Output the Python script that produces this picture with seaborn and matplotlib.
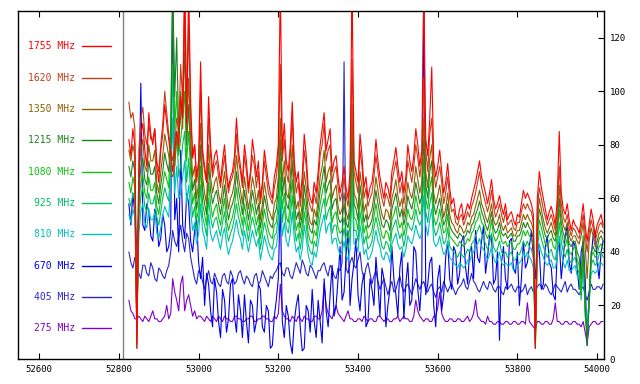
import numpy as np
import pandas as pd
import matplotlib
matplotlib.use("Agg")
import matplotlib.pyplot as plt
import seaborn as sns

start_mjd = 52825
step_days = 5

f1755 = [82,76, 86,80, 4,70, 84,88, 78,72, 92,84, 80,86, 72,66, 78,84, 95,88, 82,76, 70,78, 85,80, 98,90, 140,88, 140,96, 75,80, 68,74, 111,78, 72,66, 98,80, 70,76, 78,72, 66,74, 80,70, 64,68, 70,76, 90,78, 72,66, 80,74, 64,70, 82,76, 68,74, 60,66, 78,72, 66,62, 60,68, 72,80, 140,78, 88,74, 70,80, 96,74, 66,70, 60,68, 84,76, 64,60, 58,66, 62,70, 80,86, 92,78, 82,86, 70,74, 76,68, 62,66, 72,64, 60,70, 140,74, 70,66, 84,76, 64,68, 60,64, 66,72, 82,74, 68,64, 60,66, 64,60, 70,74, 79,72, 66,70, 62,68, 80,74, 70,76, 86,80, 72,78, 140,82, 76,90, 109,74, 68,72, 78,70, 62,66, 73,64, 58,60, 54,52, 56,58, 52,55, 58,56, 60,63, 66,70, 74,68, 65,62, 58,62, 67,60, 56,58, 61,57, 54,58, 52,54, 55,52, 50,54, 53,58, 63,60, 62,60, 58,54, 4,60, 70,64, 60,56, 52,55, 57,54, 50,60, 85,62, 56,54, 58,52, 48,52, 50,49, 47,52, 58,50, 44,50, 56,52, 46,50, 52,54, 50]
f1620 = [96,90, 92,86, 6,78, 90,94, 84,80, 88,82, 82,86, 74,70, 80,88, 100,92, 84,78, 74,80, 90,86, 110,96, 140,92, 125,90, 76,80, 66,72, 100,76, 70,66, 90,76, 68,72, 74,68, 64,70, 76,68, 62,66, 68,72, 84,74, 70,64, 76,70, 62,68, 76,72, 64,70, 58,64, 74,68, 62,60, 58,64, 68,76, 110,74, 82,70, 66,76, 90,70, 62,66, 57,64, 78,72, 60,57, 55,62, 58,66, 76,80, 88,74, 78,80, 66,70, 72,64, 59,62, 68,61, 57,66, 112,70, 66,62, 78,72, 60,64, 57,60, 62,68, 76,70, 64,60, 57,62, 60,57, 66,70, 74,68, 62,66, 58,64, 74,70, 66,72, 80,75, 68,74, 105,78, 70,84, 90,70, 64,68, 72,66, 58,62, 68,60, 55,56, 51,50, 53,54, 50,52, 55,53, 57,59, 62,66, 70,64, 61,58, 55,58, 63,57, 53,55, 58,54, 51,55, 50,51, 52,49, 48,51, 51,55, 58,56, 58,56, 55,51, 6,56, 64,60, 56,53, 50,52, 54,51, 48,56, 72,58, 53,51, 54,49, 46,49, 48,46, 45,49, 54,47, 40,47, 52,49, 44,47, 50,51, 49]
f1350 = [78,74, 80,76, 8,68, 78,82, 72,70, 80,74, 74,78, 66,62, 70,76, 84,80, 76,70, 68,72, 82,78, 100,86, 130,84, 105,82, 68,72, 60,66, 88,68, 62,58, 80,68, 62,66, 68,62, 58,64, 70,62, 56,60, 62,66, 76,68, 63,58, 68,62, 56,61, 68,64, 58,63, 52,58, 66,61, 56,54, 52,58, 60,68, 90,66, 74,62, 60,68, 80,63, 56,59, 52,58, 70,64, 55,51, 50,56, 53,60, 68,72, 78,66, 70,72, 60,63, 65,57, 54,56, 62,55, 52,59, 95,62, 60,56, 70,64, 55,58, 52,54, 56,61, 68,63, 58,54, 52,56, 55,52, 60,63, 67,61, 57,60, 53,58, 66,62, 60,64, 72,67, 62,66, 90,70, 64,75, 80,62, 58,61, 65,59, 53,56, 62,54, 51,50, 48,47, 50,49, 47,48, 51,50, 53,54, 57,60, 63,58, 56,53, 51,54, 58,52, 50,51, 54,50, 48,50, 47,48, 49,46, 46,48, 48,51, 54,52, 54,52, 51,48, 8,52, 60,56, 52,49, 47,49, 51,48, 46,52, 65,54, 50,48, 51,46, 44,46, 46,44, 43,46, 51,42, 30,44, 49,46, 42,44, 47,48, 47]
f1215 = [72,68, 74,70, 4,62, 72,75, 67,65, 74,69, 69,72, 62,58, 65,70, 77,73, 70,80, 140,98, 120,84, 90,96, 115,80, 95,76, 63,67, 56,61, 80,63, 58,54, 73,63, 58,61, 63,58, 54,59, 65,57, 52,56, 58,61, 70,63, 59,54, 63,58, 52,57, 63,59, 54,58, 49,54, 61,57, 52,50, 49,54, 56,63, 82,61, 68,58, 56,63, 74,59, 52,55, 49,54, 65,59, 51,48, 47,52, 50,56, 63,67, 72,62, 65,67, 56,59, 60,53, 51,52, 58,51, 49,55, 85,58, 56,52, 65,59, 51,54, 49,50, 52,57, 63,58, 54,50, 49,52, 51,48, 56,59, 62,57, 53,56, 50,54, 61,58, 56,60, 66,62, 58,61, 82,65, 60,70, 74,58, 54,57, 60,55, 50,52, 58,50, 48,47, 46,45, 47,46, 45,46, 48,47, 50,51, 54,56, 59,55, 53,50, 48,51, 55,49, 47,48, 51,47, 46,47, 45,46, 47,44, 44,46, 46,48, 51,49, 51,49, 48,45, 4,48, 56,53, 49,46, 45,47, 48,45, 44,49, 60,51, 47,45, 48,43, 42,44, 44,40, 38,30, 46,20, 5,22, 40,42, 40,41, 45,46, 44]
f1080 = [66,62, 68,64, 10,57, 66,69, 62,60, 68,63, 63,66, 57,54, 60,65, 70,67, 64,90, 140,86, 100,76, 82,90, 100,74, 85,70, 58,62, 52,56, 72,58, 54,50, 66,58, 53,56, 58,53, 50,55, 60,52, 48,51, 53,57, 64,58, 54,50, 58,53, 48,53, 58,54, 50,54, 45,50, 56,52, 48,46, 45,50, 51,58, 75,56, 62,53, 51,58, 67,54, 48,51, 45,50, 60,54, 47,44, 43,48, 46,52, 58,62, 66,57, 60,62, 51,54, 55,49, 47,48, 53,47, 45,50, 78,53, 52,48, 60,54, 47,50, 45,46, 48,53, 58,53, 50,46, 45,48, 47,44, 52,54, 57,52, 49,51, 46,50, 56,53, 52,55, 61,57, 54,56, 75,60, 56,64, 68,53, 50,52, 56,51, 47,48, 54,46, 45,44, 43,42, 44,43, 42,43, 45,44, 47,48, 51,52, 55,51, 50,47, 45,47, 52,46, 44,45, 48,44, 43,44, 42,43, 44,41, 41,43, 43,45, 48,46, 48,46, 45,42, 4,45, 52,49, 46,43, 42,44, 45,42, 41,46, 56,48, 44,42, 45,40, 39,41, 42,37, 35,24, 43,18, 8,20, 38,40, 38,39, 42,43, 41]
f925 = [60,57, 62,59, 12,52, 61,64, 57,55, 62,58, 58,61, 53,50, 55,60, 64,61, 59,75, 110,72, 85,68, 72,80, 85,66, 75,62, 53,57, 48,52, 65,53, 50,46, 60,53, 49,52, 53,49, 46,51, 55,48, 44,47, 49,53, 58,53, 50,46, 53,49, 44,49, 53,50, 46,50, 41,46, 51,48, 44,42, 41,46, 47,53, 68,51, 57,49, 47,53, 61,50, 44,47, 41,46, 55,50, 43,40, 39,44, 42,48, 53,57, 60,52, 55,57, 47,50, 50,45, 43,44, 49,43, 41,46, 70,48, 48,44, 55,50, 43,46, 41,42, 44,49, 53,49, 46,42, 41,44, 43,40, 48,50, 52,48, 45,47, 42,46, 51,49, 48,51, 56,52, 50,52, 68,55, 51,58, 62,49, 46,48, 51,47, 43,44, 49,42, 41,40, 39,38, 40,39, 38,39, 41,40, 43,44, 46,48, 50,47, 45,43, 41,43, 47,42, 40,41, 44,40, 39,40, 38,39, 40,37, 37,39, 39,41, 44,42, 44,42, 41,38, 6,41, 48,45, 42,40, 38,40, 41,38, 37,42, 51,44, 40,38, 41,37, 36,37, 38,34, 32,22, 40,16, 10,20, 35,37, 35,36, 39,40, 38]
f810 = [54,51, 56,53, 14,47, 55,58, 51,49, 56,52, 52,55, 47,45, 49,54, 57,55, 53,66, 90,62, 72,60, 62,68, 74,58, 65,55, 48,51, 43,47, 58,48, 45,41, 54,47, 44,46, 48,44, 41,46, 49,43, 39,42, 44,48, 52,47, 45,41, 48,44, 40,44, 48,45, 42,45, 37,41, 46,43, 40,38, 37,41, 42,48, 61,46, 51,44, 42,47, 55,45, 40,42, 37,41, 50,45, 39,36, 35,40, 38,43, 48,51, 54,47, 50,51, 43,45, 45,41, 39,40, 44,39, 37,41, 63,43, 43,40, 50,45, 39,41, 37,38, 40,44, 48,44, 42,38, 37,40, 39,36, 43,45, 47,43, 41,42, 38,41, 46,44, 43,46, 50,47, 45,47, 61,50, 46,52, 56,44, 42,43, 46,42, 39,40, 44,38, 37,36, 35,34, 36,35, 34,35, 37,36, 39,40, 42,43, 45,42, 41,39, 37,39, 42,38, 36,37, 40,36, 35,36, 35,35, 36,33, 34,35, 36,37, 40,38, 40,38, 37,34, 10,37, 43,40, 38,36, 35,36, 37,34, 34,38, 46,40, 36,34, 37,33, 33,34, 35,31, 30,24, 37,20, 14,22, 32,33, 32,33, 36,36, 35]
f670 = [58,50, 62,54, 40,56, 103,50, 48,58, 55,46, 44,56, 52,42, 45,54, 50,40, 42,48, 140,52, 60,40, 78,50, 45,62, 58,44, 40,48, 52,36, 30,38, 20,32, 28,18, 12,30, 25,14, 8,26, 22,10, 15,28, 30,16, 10,24, 18,8, 24,14, 6,22, 20,10, 14,28, 26,12, 10,20, 18,4, 5,16, 22,30, 60,14, 8,20, 16,6, 2,14, 20,24, 12,3, 4,20, 18,10, 26,14, 8,22, 14,6, 30,18, 12,24, 35,16, 20,30, 42,22, 25,38, 48,20, 30,36, 45,24, 18,28, 32,12, 14,30, 26,20, 38,28, 16,34, 30,12, 20,26, 42,30, 24,16, 34,40, 15,28, 36,20, 22,42, 40,26, 18,30, 140,24, 28,36, 38,20, 12,30, 35,18, 24,38, 44,30, 26,42, 40,28, 32,44, 46,34, 28,40, 42,30, 48,38, 36,44, 50,32, 38,46, 46,28, 30,40, 7,36, 42,30, 26,44, 45,34, 32,40, 20,30, 44,34, 36,42, 48,38, 30,44, 40,26, 28,42, 46,36, 34,24, 22,40, 44,30, 38,46, 50,36, 32,44, 42,34, 26,40, 44,30, 5,24, 38,46, 48,36, 30,40, 44]
f405 = [40,36, 34,38, 36,32, 30,35, 35,32, 31,36, 34,30, 29,34, 33,31, 30,33, 35,40, 48,44, 42,46, 50,44, 40,47, 45,38, 34,30, 28,33, 32,29, 26,30, 33,29, 28,32, 30,28, 27,31, 32,29, 28,33, 31,28, 29,32, 33,30, 28,31, 30,28, 27,31, 32,28, 29,33, 31,29, 27,31, 30,32, 33,35, 36,32, 31,34, 34,31, 30,33, 36,34, 32,37, 35,32, 31,35, 34,32, 30,33, 33,35, 36,33, 31,35, 34,31, 30,34, 33,36, 111,34, 32,36, 38,35, 34,37, 40,33, 30,34, 36,32, 28,31, 33,29, 26,28, 30,27, 24,27, 29,25, 26,29, 31,27, 25,27, 28,26, 24,27, 30,28, 26,28, 29,26, 25,27, 28,25, 23,26, 27,25, 29,27, 25,27, 28,26, 24,26, 27,28, 30,27, 26,29, 32,29, 28,26, 25,27, 29,27, 26,29, 28,26, 25,27, 27,25, 24,27, 26,27, 28,26, 25,27, 27,25, 26,28, 24,26, 27,25, 25,27, 28,27, 26,28, 27,25, 24,26, 28,27, 26,25, 27,29, 25,27, 28,26, 26,25, 24,26, 27,24, 22,25, 28,26, 26,27, 27,26, 28]
f275 = [22,18, 17,15, 15,16, 15,14, 16,15, 14,16, 18,15, 15,14, 14,15, 16,20, 15,17, 30,25, 22,18, 28,31, 18,22, 24,20, 16,18, 15,16, 16,15, 14,16, 15,14, 16,15, 14,16, 15,14, 16,15, 15,14, 14,16, 16,15, 15,14, 14,15, 15,16, 16,14, 14,15, 15,16, 16,15, 15,14, 14,16, 15,17, 28,18, 16,15, 15,14, 16,15, 14,16, 15,14, 16,15, 15,14, 14,16, 16,15, 15,18, 28,20, 17,16, 15,18, 20,17, 16,15, 14,16, 18,15, 15,14, 14,15, 15,14, 16,15, 14,15, 15,14, 14,16, 16,15, 14,15, 15,14, 14,15, 15,16, 14,15, 16,15, 15,14, 14,16, 22,18, 16,15, 14,15, 15,14, 14,16, 16,19, 25,17, 15,14, 14,15, 15,14, 14,15, 15,14, 14,15, 16,14, 15,17, 22,16, 15,14, 14,13, 16,14, 14,13, 13,14, 14,13, 13,14, 14,13, 13,14, 14,13, 13,14, 14,13, 21,14, 13,12, 11,14, 14,13, 13,14, 14,13, 13,15, 21,14, 14,13, 13,14, 14,13, 13,14, 14,13, 13,12, 14,10, 6,12, 13,14, 14,13, 13,14, 14]

labels = ["1755 MHz", "1620 MHz", "1350 MHz", "1215 MHz", "1080 MHz",
          "925 MHz", "810 MHz", "670 MHz", "405 MHz", "275 MHz"]
series = [f1755, f1620, f1350, f1215, f1080, f925, f810, f670, f405, f275]
colors = ["#ff0000", "#c04018", "#8c6000", "#208020", "#10c010",
          "#00c060", "#00c0c0", "#0000f0", "#2828c8", "#8000c8"]
xticks = [52600, 52800, 53000, 53200, 53400, 53600, 53800, 54000]
yticks = [0, 20, 40, 60, 80, 100, 120]

frames = []
for s, lab in zip(series, labels):
    frames.append(pd.DataFrame({"mjd": start_mjd + step_days * np.arange(len(s)),
                                "flux": s, "freq": lab}))
df = pd.concat(frames, ignore_index=True)

sns.set_theme(style="ticks")
plt.rcParams["font.family"] = ["DejaVu Sans Mono", "DejaVu Sans"]

fig = plt.figure(figsize=(6.4, 3.84), dpi=100)
ax = fig.add_axes([0.0289, 0.0651, 0.9153, 0.9063])

# draw lowest frequency first so 1755 MHz ends on top
pal = dict(zip(labels, colors))
for lab in labels[::-1]:
    sns.lineplot(data=df[df["freq"] == lab], x="mjd", y="flux", color=pal[lab],
                 lw=0.8, ax=ax, legend=False, estimator=None)

ax.axvline(52811, color="#808080", lw=1.0)

ax.set_xlim(52548, 54018)
ax.set_ylim(0, 130)
ax.set_xticks(xticks)
ax.set_xticklabels([str(t) for t in xticks])
ax.set_yticks(yticks)
ax.yaxis.tick_right()
ax.tick_params(axis="x", direction="in", top=True, bottom=True, length=4, width=0.8,
               labelsize=6.5, pad=4, colors="black")
ax.tick_params(axis="y", direction="in", left=False, right=True, length=4, width=0.8,
               labelsize=6.5, pad=4, colors="black")
ax.set_xlabel("")
ax.set_ylabel("")
for sp in ax.spines.values():
    sp.set_visible(True)
    sp.set_color("black")
    sp.set_linewidth(1.0)

# legend drawn inside the axes on the left
y0 = 0.8986
dy = 0.0901
for i, (lab, col) in enumerate(zip(labels, colors)):
    y = y0 - i * dy
    ax.text(0.0965, y, lab, transform=ax.transAxes, ha="right", va="center",
            color=col, fontsize=7)
    ax.plot([0.108, 0.158], [y, y], transform=ax.transAxes, color=col, lw=1.0)

fig.savefig("out.png", dpi=100)
